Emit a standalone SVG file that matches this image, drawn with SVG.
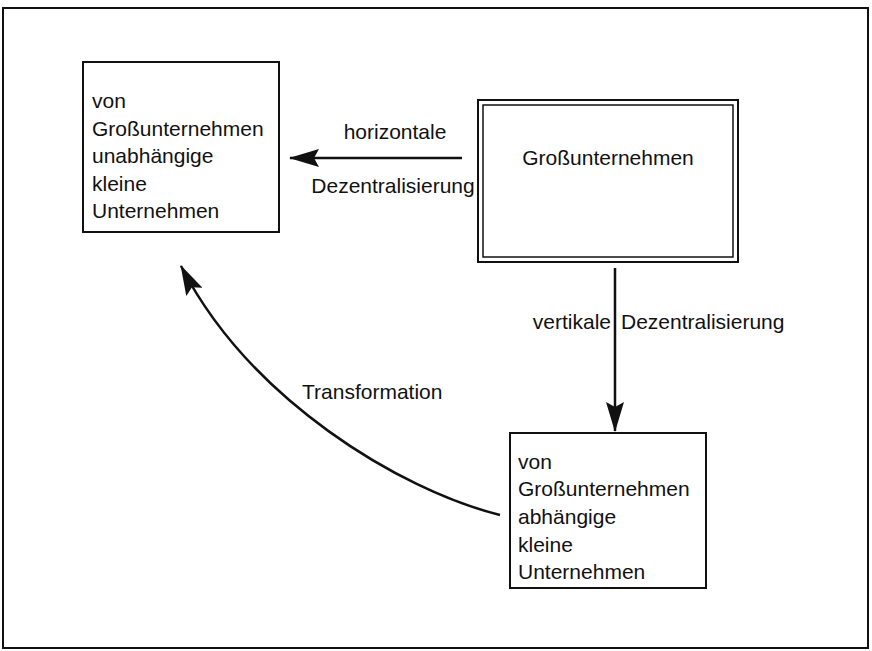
<svg xmlns="http://www.w3.org/2000/svg" width="872" height="651" viewBox="0 0 872 651">
<defs>
<style>
text{font-family:"Liberation Sans",Arial,sans-serif;font-size:21px;fill:#111}
.box{fill:none;stroke:#111;stroke-width:2}
.thin{fill:none;stroke:#111;stroke-width:1.5}
.con{fill:none;stroke:#111;stroke-width:2.5}
</style>
<marker id="ah" viewBox="0 0 30 18" refX="29" refY="9" markerWidth="30" markerHeight="18" markerUnits="userSpaceOnUse" orient="auto">
<path d="M0,0 L30,9 L0,18 L5,9 Z" fill="#111"/>
</marker>
</defs>
<rect x="0" y="0" width="872" height="651" fill="#fff"/>
<rect id="frame" x="3" y="8" width="865" height="640" class="box"/>
<g id="n_unabh">
<rect x="83" y="62" width="196" height="170" class="box"/>
<text x="92" y="108">von</text>
<text x="92" y="136">Großunternehmen</text>
<text x="92" y="163">unabhängige</text>
<text x="92" y="191">kleine</text>
<text x="92" y="218">Unternehmen</text>
</g>
<g id="n_gross">
<rect x="478" y="100" width="260" height="162" class="box"/>
<rect x="483" y="105" width="250" height="152" class="thin"/>
<text x="608" y="165" text-anchor="middle">Großunternehmen</text>
</g>
<g id="n_abh">
<rect x="510" y="433" width="196" height="155" class="box"/>
<text x="518" y="469">von</text>
<text x="518" y="496">Großunternehmen</text>
<text x="518" y="524">abhängige</text>
<text x="518" y="552">kleine</text>
<text x="518" y="579">Unternehmen</text>
</g>
<g id="connectors">
<line x1="462" y1="158" x2="290" y2="158" class="con" marker-end="url(#ah)"/>
<line x1="615" y1="268" x2="615" y2="431" class="con" marker-end="url(#ah)"/>
<path d="M500,515 C400,490 250,400 181,266" class="con" marker-end="url(#ah)"/>
</g>
<g id="labels">
<text x="395" y="139" text-anchor="middle">horizontale</text>
<text x="393" y="193" text-anchor="middle">Dezentralisierung</text>
<text x="611" y="329" text-anchor="end">vertikale</text>
<text x="621" y="329">Dezentralisierung</text>
<text x="302" y="399">Transformation</text>
</g>
</svg>
